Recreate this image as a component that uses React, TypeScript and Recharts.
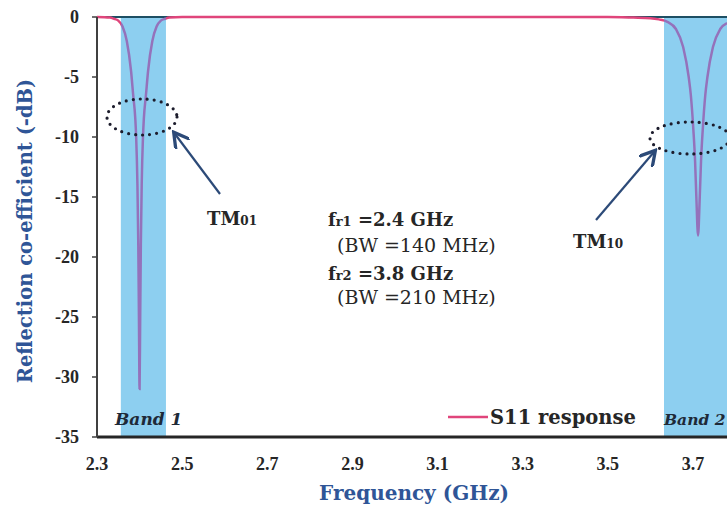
import React from "react";
import {
  Legend,
  Line,
  LineChart,
  ReferenceArea,
  ReferenceLine,
  XAxis,
  YAxis,
} from "recharts";

// S11 sweep (GHz, dB)
const FREQ = [
  2.3, 2.33, 2.34, 2.35, 2.36, 2.37, 2.38, 2.385, 2.39, 2.392, 2.395, 2.397, 2.3985,
  2.4, 2.4015, 2.403, 2.405, 2.408, 2.41, 2.415, 2.42, 2.43, 2.44, 2.45, 2.46, 2.47,
  2.5, 2.7, 2.9, 3.1, 3.3, 3.5, 3.56, 3.6, 3.62, 3.64, 3.66, 3.677, 3.69, 3.695,
  3.701, 3.705, 3.708, 3.712, 3.716, 3.719, 3.723, 3.729, 3.734, 3.747, 3.764, 3.78,
];
const S11 = [
  0, -0.05, -0.15, -0.3, -0.8, -2.0, -4.5, -6.5, -8.5, -10, -14, -19, -25,
  -31, -25, -19, -14, -10, -8.5, -6.5, -4.5, -2.0, -0.8, -0.3, -0.15, -0.05,
  0, 0, 0, 0, 0, 0, -0.05, -0.1, -0.2, -0.4, -1.0, -2.5, -5, -6.5,
  -9.4, -12, -15, -18.2, -15, -12, -9.4, -6.5, -5, -2.5, -1.0, -0.5,
];

const X_DOMAIN = [2.3, 3.78];
const X_TICKS = [2.3, 2.5, 2.7, 2.9, 3.1, 3.3, 3.5, 3.7];
const Y_TICKS = [0, -5, -10, -15, -20, -25, -30, -35];
const BAND1 = [2.356, 2.462];
const BAND2 = [3.632, 3.78];

const data = FREQ.map((f, i) => ({ f, s11: S11[i] }));

const PINK = "#e0457b";
const PURPLE = "#9472bb";
const BAND_FILL = "#8dcff0";
const TITLE_BLUE = "#2f5597";
const ARROW = "#2c4a78";
const serif = "'Liberation Serif', 'Times New Roman', serif";
const wide = "'DejaVu Serif', serif";

const pos = (v: number) => (v - X_DOMAIN[0]) / (X_DOMAIN[1] - X_DOMAIN[0]);

const tickStyle = { fontFamily: serif, fontWeight: 700, fontSize: 18, fill: "#262626" };

function LegendBox() {
  return (
    <svg width={220} height={30}>
      <line x1={2} x2={42} y1={13} y2={13} stroke={PINK} strokeWidth={2.5} />
      <text x={44} y={20} fontFamily={wide} fontWeight={700} fontSize={19.5} fill="#262626">
        S11 response
      </text>
    </svg>
  );
}

function Annotations() {
  const txt = { fontFamily: wide, fontSize: 18, fill: "#262626" };
  return (
    <svg
      width={727}
      height={508}
      style={{ position: "absolute", left: 0, top: 0, pointerEvents: "none" }}
    >
      <defs>
        <marker id="head" markerWidth="8" markerHeight="8" refX="6" refY="4" orient="auto">
          <path d="M0,0 L7,4 L0,8" fill="none" stroke={ARROW} strokeWidth={1.5} />
        </marker>
      </defs>
      <ellipse cx={142} cy={117} rx={35} ry={18} fill="none" stroke="#1c1c2c" strokeWidth={3.2}
        strokeDasharray="0 7" strokeLinecap="round" />
      <ellipse cx={690} cy={138} rx={40} ry={16} fill="none" stroke="#1c1c2c" strokeWidth={3.2}
        strokeDasharray="0 7" strokeLinecap="round" />
      <line x1={220} y1={194} x2={175} y2={134} stroke={ARROW} strokeWidth={2.2} markerEnd="url(#head)" />
      <line x1={596} y1={220} x2={654} y2={152} stroke={ARROW} strokeWidth={2.2} markerEnd="url(#head)" />

      <text x={207} y={225} {...txt} fontWeight={700}>
        TM<tspan fontSize={12}>01</tspan>
      </text>
      <text x={573} y={248} {...txt} fontWeight={700}>
        TM<tspan fontSize={12}>10</tspan>
      </text>

      <text x={328} y={226} {...txt} fontWeight={700}>
        f<tspan fontSize={13}>r1</tspan> =2.4 GHz
      </text>
      <text x={337} y={252} {...txt} fontSize={19}>(BW =140 MHz)</text>
      <text x={328} y={280} {...txt} fontWeight={700}>
        f<tspan fontSize={13}>r2</tspan> =3.8 GHz
      </text>
      <text x={337} y={304} {...txt} fontSize={19}>(BW =210 MHz)</text>

      <text x={115} y={425} {...txt} fontSize={17} fontWeight={700} fontStyle="italic" fill="#1e2a38">
        Band 1
      </text>
      <text x={664} y={425} {...txt} fontSize={15.5} fontWeight={700} fontStyle="italic" fill="#1e2a38">
        Band 2
      </text>
    </svg>
  );
}

export default function App() {
  return (
    <div style={{ position: "absolute", left: 0, top: 0, width: 727, height: 508, background: "#fff" }}>
      <LineChart
        width={727}
        height={508}
        data={data}
        margin={{ top: 17, right: 0, bottom: 0, left: 0 }}
      >
        <defs>
          <linearGradient id="s11Stroke" x1="0" y1="0" x2="1" y2="0">
            <stop offset={0} stopColor={PINK} />
            <stop offset={pos(BAND1[0])} stopColor={PINK} />
            <stop offset={pos(BAND1[0])} stopColor={PURPLE} />
            <stop offset={pos(BAND1[1])} stopColor={PURPLE} />
            <stop offset={pos(BAND1[1])} stopColor={PINK} />
            <stop offset={pos(BAND2[0])} stopColor={PINK} />
            <stop offset={pos(BAND2[0])} stopColor={PURPLE} />
            <stop offset={1} stopColor={PURPLE} />
          </linearGradient>
        </defs>
        <XAxis
          dataKey="f"
          type="number"
          domain={X_DOMAIN}
          ticks={X_TICKS}
          allowDataOverflow
          height={71}
          tickLine={false}
          tickSize={6}
          tickMargin={14}
          axisLine={{ stroke: "#262626", strokeWidth: 3 }}
          tick={tickStyle}
          label={{
            content: ({ viewBox }: any) => (
              <text
                x={viewBox.x + viewBox.width / 2 + 2}
                y={viewBox.y + 63}
                textAnchor="middle"
                fontFamily={wide}
                fontWeight={700}
                fontSize={20}
                fill={TITLE_BLUE}
              >
                Frequency (GHz)
              </text>
            ),
          }}
        />
        <XAxis
          xAxisId="top"
          dataKey="f"
          type="number"
          orientation="top"
          domain={X_DOMAIN}
          ticks={X_TICKS}
          allowDataOverflow
          height={0}
          mirror
          tick={false}
          tickSize={5}
          axisLine={false}
          tickLine={{ stroke: "#444", strokeWidth: 1 }}
        />
        <YAxis
          type="number"
          domain={[-35, 0]}
          ticks={Y_TICKS}
          width={97}
          tickSize={5}
          tickMargin={13}
          axisLine={{ stroke: "#404040", strokeWidth: 2 }}
          tickLine={{ stroke: "#404040", strokeWidth: 1.5 }}
          tick={tickStyle}
          label={{
            content: ({ viewBox }: any) => {
              const cx = 25;
              const cy = viewBox.y + viewBox.height / 2 + 4;
              return (
                <text
                  x={cx}
                  y={cy}
                  transform={`rotate(-90 ${cx} ${cy})`}
                  textAnchor="middle"
                  dominantBaseline="central"
                  fontFamily={wide}
                  fontWeight={700}
                  fontSize={19.5}
                  fill={TITLE_BLUE}
                >
                  Reflection co-efficient (-dB)
                </text>
              );
            },
          }}
        />
        <ReferenceArea x1={BAND1[0]} x2={BAND1[1]} fill={BAND_FILL} fillOpacity={1} stroke="none" />
        <ReferenceArea x1={BAND2[0]} x2={BAND2[1]} fill={BAND_FILL} fillOpacity={1} stroke="none" />
        <ReferenceLine y={0} stroke="#1d4f63" strokeWidth={2} />
        <Legend
          layout="horizontal"
          verticalAlign="middle"
          content={() => <LegendBox />}
          wrapperStyle={{ position: "absolute", left: 446, top: 404, width: 220 }}
        />
        <Line
          type="monotone"
          dataKey="s11"
          stroke="url(#s11Stroke)"
          strokeWidth={2.5}
          dot={false}
          isAnimationActive={false}
        />
      </LineChart>
      <Annotations />
    </div>
  );
}
